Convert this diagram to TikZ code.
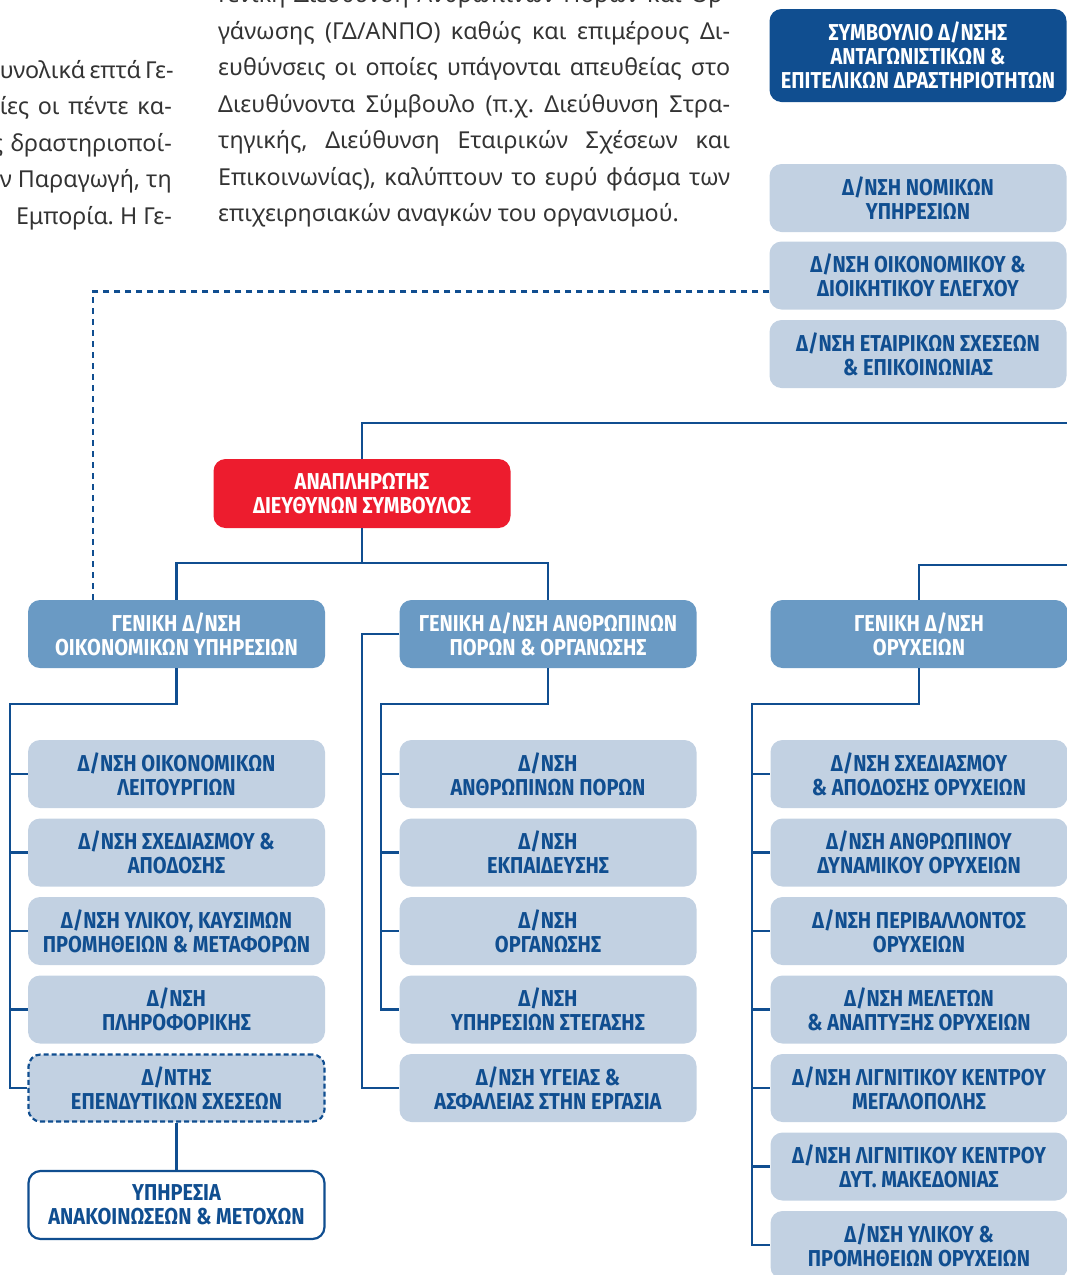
\documentclass[tikz,border=0pt]{standalone}
\usepackage{fontspec}
\setmainfont{Noto Sans}
\newfontfamily\boxfont[FakeStretch=0.87]{Fira Sans}
\definecolor{ppcdark}{HTML}{104E90}
\definecolor{ppcmid}{HTML}{6A9AC4}
\definecolor{ppclight}{HTML}{C2D1E2}
\definecolor{ppcred}{HTML}{ED1C2E}
\definecolor{ppctext}{HTML}{333333}
\frenchspacing

\begin{document}
\begin{tikzpicture}[x=1pt,y=-1pt,
    box/.style={rounded corners=12pt,minimum width=297pt,minimum height=68pt,inner sep=0pt,align=center,
      font=\fontsize{23}{24}\selectfont\boxfont\bfseries},
    sub/.style={box,fill=ppclight,text=ppcdark},
    gen/.style={box,fill=ppcmid,text=white},
    link/.style={draw=ppcdark,line width=2.6pt},
    dlink/.style={link,dash pattern=on 6pt off 5pt},
    body/.style={inner sep=0pt,text=ppctext,font=\fontsize{23.3}{36}\selectfont}]
    \useasboundingbox (0,0) rectangle (1067,1275);
    \clip (0,0) rectangle (1067,1275);

    \node[body,anchor=base east] (l1) at (172,78) {\makebox[172pt][s]{υνολικά επτά Γε-}};
    \node[body,anchor=base east] (l2) at (172,114.5) {\makebox[172pt][s]{ίες οι πέντε κα-}};
    \node[body,anchor=base east] (l3) at (172,151) {\makebox[180pt][s]{ς δραστηριοποί-}};
    \node[body,anchor=base east] (l4) at (172,187.5) {\makebox[172pt][s]{ν Παραγωγή, τη}};
    \node[body,anchor=base east] (l5) at (172,224) {Εμπορία. Η Γε-};

    \node[body,anchor=base west] (p1) at (218,2.5) {\makebox[512pt][s]{Γενική Διεύθυνση Ανθρώπινων Πόρων και Ορ-}};
    \node[body,anchor=base west] (p2) at (218,39) {\makebox[512pt][s]{γάνωσης (ΓΔ/ΑΝΠΟ) καθώς και επιμέρους Δι-}};
    \node[body,anchor=base west] (p3) at (218,75.5) {\makebox[512pt][s]{ευθύνσεις οι οποίες υπάγονται απευθείας στο}};
    \node[body,anchor=base west] (p4) at (218,112) {\makebox[512pt][s]{Διευθύνοντα Σύμβουλο (π.χ. Διεύθυνση Στρα-}};
    \node[body,anchor=base west] (p5) at (218,148.5) {\makebox[512pt][s]{τηγικής, Διεύθυνση Εταιρικών Σχέσεων και}};
    \node[body,anchor=base west] (p6) at (218,185) {\makebox[512pt][s]{Επικοινωνίας), καλύπτουν το ευρύ φάσμα των}};
    \node[body,anchor=base west] (p7) at (218,221.5) {επιχειρησιακών αναγκών του οργανισμού.};

    \node[box,fill=ppcdark,text=white,minimum height=93pt] (board) at (918,55.5) {ΣΥΜΒΟΥΛΙΟ Δ/ΝΣΗΣ\\ΑΝΤΑΓΩΝΙΣΤΙΚΩΝ \&\\ΕΠΙΤΕΛΙΚΩΝ ΔΡΑΣΤΗΡΙΟΤΗΤΩΝ};
    \node[sub] (legal) at (918,198) {Δ/ΝΣΗ ΝΟΜΙΚΩΝ\\ΥΠΗΡΕΣΙΩΝ};
    \node[sub] (audit) at (918,275.5) {Δ/ΝΣΗ ΟΙΚΟΝΟΜΙΚΟΥ \&\\ΔΙΟΙΚΗΤΙΚΟΥ ΕΛΕΓΧΟΥ};
    \node[sub] (comm) at (918,354) {Δ/ΝΣΗ ΕΤΑΙΡΙΚΩΝ ΣΧΕΣΕΩΝ\\\& ΕΠΙΚΟΙΝΩΝΙΑΣ};

    \node[box,fill=ppcred,text=white,minimum height=69pt] (dep) at (362,493.5) {ΑΝΑΠΛΗΡΩΤΗΣ\\ΔΙΕΥΘΥΝΩΝ ΣΥΜΒΟΥΛΟΣ};

    \node[gen] (gfin) at (176.5,634) {ΓΕΝΙΚΗ Δ/ΝΣΗ\\ΟΙΚΟΝΟΜΙΚΩΝ ΥΠΗΡΕΣΙΩΝ};
    \node[gen] (ghr) at (548,634) {ΓΕΝΙΚΗ Δ/ΝΣΗ ΑΝΘΡΩΠΙΝΩΝ\\ΠΟΡΩΝ \& ΟΡΓΑΝΩΣΗΣ};
    \node[gen] (gmin) at (919,634) {ΓΕΝΙΚΗ Δ/ΝΣΗ\\ΟΡΥΧΕΙΩΝ};

    \node[sub] (f1) at (176.5,774) {Δ/ΝΣΗ ΟΙΚΟΝΟΜΙΚΩΝ\\ΛΕΙΤΟΥΡΓΙΩΝ};
    \node[sub] (f2) at (176.5,852.5) {Δ/ΝΣΗ ΣΧΕΔΙΑΣΜΟΥ \&\\ΑΠΟΔΟΣΗΣ};
    \node[sub] (f3) at (176.5,931) {Δ/ΝΣΗ ΥΛΙΚΟΥ, ΚΑΥΣΙΜΩΝ\\ΠΡΟΜΗΘΕΙΩΝ \& ΜΕΤΑΦΟΡΩΝ};
    \node[sub] (f4) at (176.5,1009.5) {Δ/ΝΣΗ\\ΠΛΗΡΟΦΟΡΙΚΗΣ};
    \node[sub,draw=ppcdark,line width=2.2pt,dash pattern=on 5pt off 3pt,minimum width=296pt,minimum height=67pt] (ir) at (176.5,1088) {Δ/ΝΤΗΣ\\ΕΠΕΝΔΥΤΙΚΩΝ ΣΧΕΣΕΩΝ};
    \node[box,fill=white,text=ppcdark,draw=ppcdark,line width=2.2pt,minimum width=296pt,minimum height=68pt] (ank) at (176.5,1205) {ΥΠΗΡΕΣΙΑ\\ΑΝΑΚΟΙΝΩΣΕΩΝ \& ΜΕΤΟΧΩΝ};

    \node[sub] (h1) at (548,774) {Δ/ΝΣΗ\\ΑΝΘΡΩΠΙΝΩΝ ΠΟΡΩΝ};
    \node[sub] (h2) at (548,852.5) {Δ/ΝΣΗ\\ΕΚΠΑΙΔΕΥΣΗΣ};
    \node[sub] (h3) at (548,931) {Δ/ΝΣΗ\\ΟΡΓΑΝΩΣΗΣ};
    \node[sub] (h4) at (548,1009.5) {Δ/ΝΣΗ\\ΥΠΗΡΕΣΙΩΝ ΣΤΕΓΑΣΗΣ};
    \node[sub] (hs) at (548,1088) {Δ/ΝΣΗ ΥΓΕΙΑΣ \&\\ΑΣΦΑΛΕΙΑΣ ΣΤΗΝ ΕΡΓΑΣΙΑ};

    \node[sub] (m1) at (919,774) {Δ/ΝΣΗ ΣΧΕΔΙΑΣΜΟΥ\\\& ΑΠΟΔΟΣΗΣ ΟΡΥΧΕΙΩΝ};
    \node[sub] (m2) at (919,852.5) {Δ/ΝΣΗ ΑΝΘΡΩΠΙΝΟΥ\\ΔΥΝΑΜΙΚΟΥ ΟΡΥΧΕΙΩΝ};
    \node[sub] (m3) at (919,931) {Δ/ΝΣΗ ΠΕΡΙΒΑΛΛΟΝΤΟΣ\\ΟΡΥΧΕΙΩΝ};
    \node[sub] (m4) at (919,1009.5) {Δ/ΝΣΗ ΜΕΛΕΤΩΝ\\\& ΑΝΑΠΤΥΞΗΣ ΟΡΥΧΕΙΩΝ};
    \node[sub] (m5) at (919,1088) {Δ/ΝΣΗ ΛΙΓΝΙΤΙΚΟΥ ΚΕΝΤΡΟΥ\\ΜΕΓΑΛΟΠΟΛΗΣ};
    \node[sub] (m6) at (919,1166.5) {Δ/ΝΣΗ ΛΙΓΝΙΤΙΚΟΥ ΚΕΝΤΡΟΥ\\ΔΥΤ. ΜΑΚΕΔΟΝΙΑΣ};
    \node[sub] (m7) at (919,1245) {Δ/ΝΣΗ ΥΛΙΚΟΥ \&\\ΠΡΟΜΗΘΕΙΩΝ ΟΡΥΧΕΙΩΝ};

    \coordinate (ceo) at (1067,423);
    \coordinate (mines) at (1067,565);
    \coordinate (bus) at (362,563);
    \coordinate (dashfoot) at (93,600);
    \coordinate (finbus) at (10,704);
    \coordinate (hrout) at (362,634);
    \coordinate (hrbus) at (381,704);
    \coordinate (minbus) at (752,704);

    \draw[link] (dep.north) |- (ceo);
    \draw[link] (dep.south) -- (bus) -| (gfin.north);
    \draw[link] (bus) -| (ghr.north);
    \draw[link] (gmin.north) |- (mines);
    \draw[dlink] ([yshift=-16pt]audit.west) -| (dashfoot);

    \draw[link] (gfin.south) |- (finbus) |- (ir.west);
    \foreach \n in {f1,f2,f3,f4}
        \draw[link] (finbus |- \n.west) -- (\n.west);
    \draw[link] (ir.south) -- (ank.north);

    \draw[link] (ghr.west) -- (hrout) |- (hs.west);
    \draw[link] (ghr.south) |- (hrbus) |- (h4.west);
    \foreach \n in {h1,h2,h3}
        \draw[link] (hrbus |- \n.west) -- (\n.west);

    \draw[link] (gmin.south) |- (minbus) |- (m7.west);
    \foreach \n in {m1,m2,m3,m4,m5,m6}
        \draw[link] (minbus |- \n.west) -- (\n.west);
\end{tikzpicture}
\end{document}
